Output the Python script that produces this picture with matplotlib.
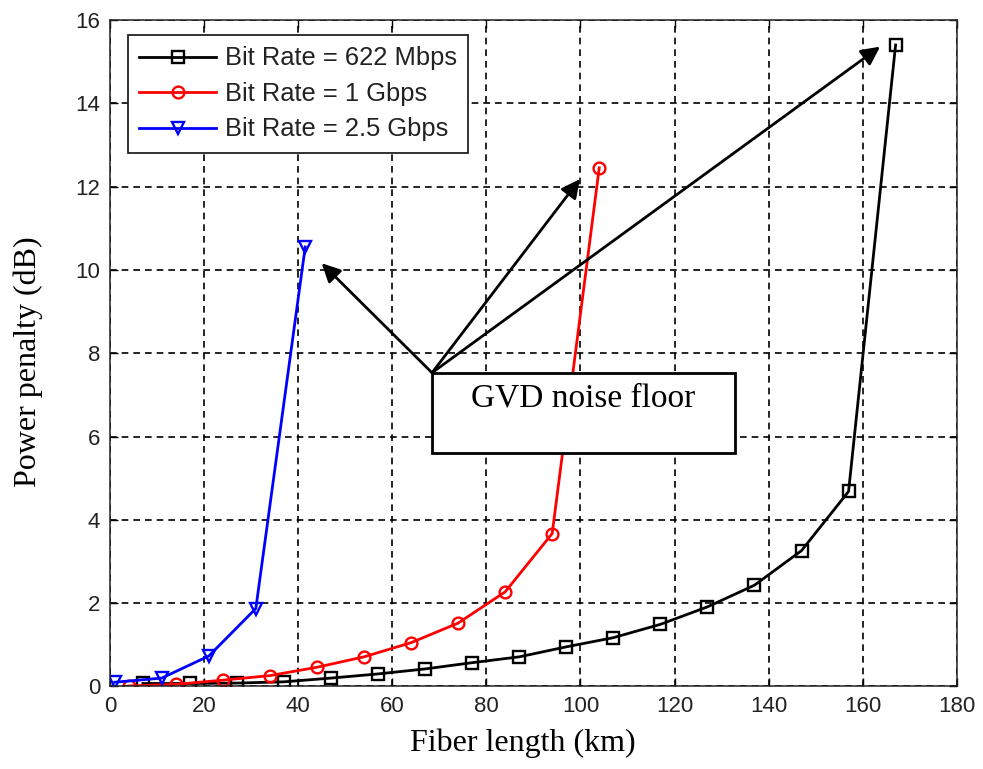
import matplotlib
matplotlib.use("Agg")
import matplotlib.pyplot as plt
from matplotlib.patches import Rectangle

# fiber length (km) and power penalty (dB) for each bit rate
len_622 = [7, 17, 27, 37, 47, 57, 67, 77, 87, 97, 107, 117, 127, 137, 147, 157, 167]
pp_622 = [0.07, 0.07, 0.08, 0.11, 0.2, 0.3, 0.42, 0.57, 0.71, 0.95, 1.17, 1.49, 1.91, 2.43, 3.26, 4.68, 15.4]

len_1g = [4, 14, 24, 34, 44, 54, 64, 74, 84, 94, 104]
pp_1g = [0.01, 0.05, 0.15, 0.26, 0.46, 0.71, 1.05, 1.52, 2.27, 3.67, 12.45]

len_25g = [1, 11, 21, 31, 41.5]
pp_25g = [0.1, 0.2, 0.73, 1.87, 10.55]

labels = ["Bit Rate = 622 Mbps", "Bit Rate = 1 Gbps", "Bit Rate = 2.5 Gbps"]
xticks = list(range(0, 181, 20))
yticks = list(range(0, 17, 2))

sans = "Liberation Sans"
serif = "Liberation Serif"

fig = plt.figure(figsize=(9.83, 7.69), dpi=100)
ax = fig.add_axes([0.1119, 0.1074, 0.8614, 0.8666])

mk = dict(markersize=8.5, markerfacecolor="none", markeredgewidth=1.7, linewidth=2.0)
ax.plot(len_622, pp_622, "-s", color="black", label=labels[0], **mk)
ax.plot(len_1g, pp_1g, "-o", color="red", label=labels[1], **mk)
ax.plot(len_25g, pp_25g, "-v", color="blue", label=labels[2], **mk)

ax.set_xlim(0, 180)
ax.set_ylim(0, 16)
ax.set_xticks(xticks)
ax.set_yticks(yticks)
ax.tick_params(direction="in", length=6, width=1, top=True, right=True,
               labelsize=16, pad=7)
for lab in ax.get_xticklabels() + ax.get_yticklabels():
    lab.set_family(sans)
    lab.set_color("#222222")

ax.grid(True, color="black", linestyle=(0, (4, 3)), linewidth=1.2)
for s in ax.spines.values():
    s.set_linewidth(1.1)
    s.set_color("#222222")

ax.set_xlabel("Fiber length (km)", family=serif, fontsize=23)
ax.xaxis.set_label_coords(0.487, -0.063)
fig.text(28 / 983, 1 - 362 / 769, "Power penalty (dB)", family=serif, fontsize=23,
         rotation=90, ha="center", va="center")

leg = ax.legend(loc="upper left", bbox_to_anchor=(0.021, 0.9775), borderaxespad=0,
                prop={"family": sans, "size": 18.4}, handlelength=3.0,
                handletextpad=0.35, labelspacing=0.45, borderpad=0.45,
                fancybox=False, framealpha=1, edgecolor="#222222")
leg.get_frame().set_linewidth(1.3)
for t in leg.get_texts():
    t.set_color("#222222")

# annotation box with arrows to the last point of each curve
box_x0, box_y0, box_w, box_h = 68.45, 5.6, 64.45, 1.93
ax.add_patch(Rectangle((box_x0, box_y0), box_w, box_h, facecolor="white",
                       edgecolor="black", linewidth=2, zorder=5))
ax.text(box_x0 + box_w / 2, 6.92, "GVD noise floor", family=serif, fontsize=24,
        ha="center", va="center", zorder=6)

start = (box_x0, box_y0 + box_h)
tips = [(45.0, 10.16), (99.9, 12.18), (163.7, 15.36)]
for tip in tips:
    ax.annotate("", xy=tip, xytext=start,
                arrowprops=dict(arrowstyle="-|>", mutation_scale=28, lw=2,
                                color="black", shrinkA=0, shrinkB=0),
                zorder=6)

fig.savefig("out.png", dpi=100)
